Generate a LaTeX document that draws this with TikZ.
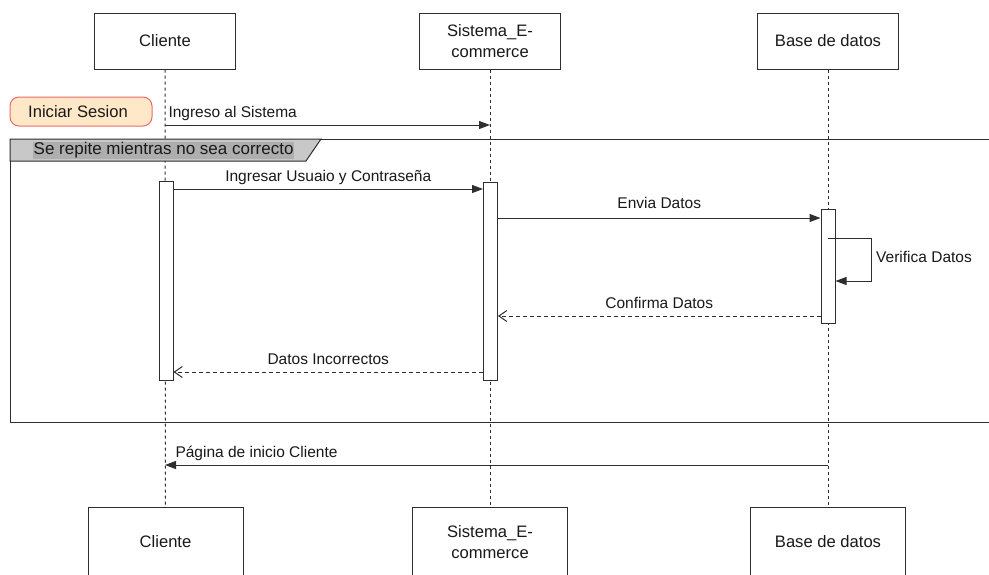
\documentclass[tikz,border=0pt]{standalone}
\usepackage{fontspec}
\setmainfont{Liberation Sans}
\usetikzlibrary{arrows.meta,positioning}

\definecolor{lineC}{HTML}{2E2E2E}
\definecolor{noteFill}{HTML}{FFE8C8}
\definecolor{noteLine}{HTML}{EA6B66}
\definecolor{tabFill}{HTML}{C8C8C8}
\definecolor{tabText}{HTML}{AEAEAE}

\begin{document}
\begin{tikzpicture}[
    x=1pt, y=-1pt,
    every node/.style={font=\fontsize{15.5}{20}\selectfont, text=black!90},
    big/.style={font=\fontsize{16.6}{21}\selectfont},
    actor/.style={
        rectangle, draw=lineC, line width=1pt, fill=white, big,
        minimum width=141pt, minimum height=56pt, inner sep=0pt, align=center
    },
    actorb/.style={actor, minimum width=155pt, minimum height=70pt},
    act/.style={rectangle, draw=lineC, line width=1pt, fill=white,
        minimum width=14pt, inner sep=0pt},
    life/.style={draw=lineC, line width=1pt, dash pattern=on 3pt off 3pt},
    msg/.style={draw=lineC, line width=1pt, -{Triangle[length=11pt,width=8pt]}},
    reply/.style={draw=lineC, line width=1pt, dash pattern=on 4pt off 3pt,
        -{Straight Barb[length=8pt,width=11pt]}},
    lbl/.style={anchor=base, inner sep=0pt, yshift=7.5pt},
    lblw/.style={anchor=base west, inner sep=0pt, yshift=7.5pt}
]
\clip (0,0) rectangle (989,574);
\fill[white] (0,0) rectangle (989,574);

% Participants
\node[actor]  (cliTop)  at (165,41)   {Cliente};
\node[actor]  (sisTop)  at (490,41)   {Sistema\_E-\\commerce};
\node[actor]  (basTop)  at (828,41)   {Base de datos};
\node[actorb] (cliBot)  at (165.5,542) {Cliente};
\node[actorb] (sisBot)  at (490,542)   {Sistema\_E-\\commerce};
\node[actorb] (basBot)  at (828,542)   {Base de datos};

% Lifelines
\draw[life] (cliTop) -- (cliBot);
\draw[life] (sisTop) -- (sisBot);
\draw[life] (basTop) -- (basBot);

% Note
\node[rectangle, rounded corners=9pt, draw=noteLine, fill=noteFill, line width=1pt, big,
      minimum width=142pt, minimum height=29pt, inner sep=0pt] (note) at (81,111.5) {Iniciar Sesion\hspace*{6pt}};

% Loop frame
\draw[lineC, line width=1pt] (10,139) rectangle (1000,422);
\draw[lineC, line width=1pt, fill=tabFill] (10,139) -- (321,139) -- (306,161) -- (10,161) -- cycle;
\node[fill=tabText, inner sep=0.5pt, anchor=west, font=\fontsize{17}{20}\selectfont] (loopLbl) at (33,150.5) {Se repite mientras no sea correcto};

% Activations
\node[act, minimum height=199pt] (actC) at (166,280.5) {};
\node[act, minimum height=198pt] (actS) at (490.5,281) {};
\node[act, minimum height=114pt] (actB) at (828,266) {};

% Message levels
\coordinate (y0) at (0,125);
\coordinate (y1) at (0,189);
\coordinate (y2) at (0,218);
\coordinate (y3) at (0,238);
\coordinate (y4) at (0,281);
\coordinate (y5) at (0,316);
\coordinate (y6) at (0,372);
\coordinate (y7) at (0,465);
\coordinate (self) at (871,0);

% Messages
\draw[msg] (cliTop |- y0) -- node[lblw, pos=0, xshift=3pt]{Ingreso al Sistema} (sisTop |- y0);
\draw[msg] (actC.east |- y1) -- node[lbl]{Ingresar Usuaio y Contraseña} (actS.west |- y1);
\draw[msg] (actS.east |- y2) -- node[lbl, yshift=2pt]{Envia Datos} (actB.west |- y2);
\draw[msg] (actB |- y3) -- (self |- y3) -- (self |- y4) -- (actB.east |- y4);
\node[anchor=west, inner sep=0pt] (verif) at (876,257) {Verifica Datos};
\draw[reply] (actB.west |- y5) -- node[lbl]{Confirma Datos} (actS.east |- y5);
\draw[reply] (actS.west |- y6) -- node[lbl]{Datos Incorrectos} (actC.east |- y6);
\draw[msg] (basTop |- y7) -- node[lblw, pos=1, xshift=10pt]{Página de inicio Cliente} (cliTop |- y7);

\end{tikzpicture}
\end{document}
